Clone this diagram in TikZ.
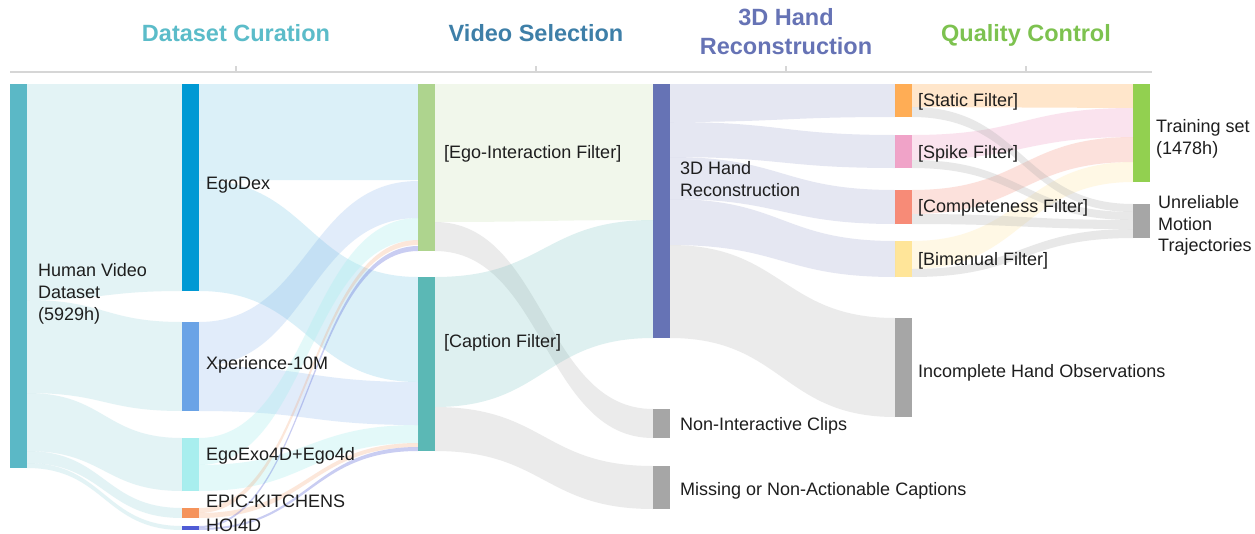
\documentclass[tikz,border=0pt]{standalone}
\usepackage{fontspec}
\setmainfont{Liberation Sans}
\usetikzlibrary{calc}

% node colours
\definecolor{cHVD}{HTML}{5BB8C6}
\definecolor{cEgoDex}{HTML}{0099D4}
\definecolor{cXper}{HTML}{6AA3E6}
\definecolor{cEgoExo}{HTML}{A8EEEE}
\definecolor{cEpic}{HTML}{F5935B}
\definecolor{cHoi}{HTML}{4F5BD5}
\definecolor{cEgoInt}{HTML}{AED48E}
\definecolor{cCap}{HTML}{5BB8B5}
\definecolor{cHand}{HTML}{6673B5}
\definecolor{cGray}{HTML}{A6A6A6}
\definecolor{cStatic}{HTML}{FFAD55}
\definecolor{cSpike}{HTML}{F0A3C8}
\definecolor{cCompl}{HTML}{F78B77}
\definecolor{cBiman}{HTML}{FFE599}
\definecolor{cTrain}{HTML}{92D050}
% header and text colours
\definecolor{hDC}{HTML}{5BBCC9}
\definecolor{hVS}{HTML}{3E7FA8}
\definecolor{hHR}{HTML}{6673B5}
\definecolor{hQC}{HTML}{7DC24F}
\definecolor{axis}{HTML}{D6D6D6}
\definecolor{txt}{HTML}{1E1E1E}

% band between two bars: #1 style, #2 source, #3/#4 offsets from its top,
% #5 target, #6/#7 offsets from its top
\newcommand\flowband[7]{%
  \path[band,#1] let \p1=(#2.north east), \p2=(#5.north west),
      \p3=($(#2.north east)!0.5!(#5.north west)$) in
    (\x1,\y1-#3pt) .. controls (\x3,\y1-#3pt) and (\x3,\y2-#6pt) .. (\x2,\y2-#6pt)
    -- (\x2,\y2-#7pt) .. controls (\x3,\y2-#7pt) and (\x3,\y1-#4pt) .. (\x1,\y1-#4pt)
    -- cycle;}

\begin{document}
\begin{tikzpicture}[x=1pt,y=-1pt,
  bar/.style={draw=none,inner sep=0pt,outer sep=0pt,minimum width=17pt,anchor=north west},
  band/.style={draw=none,fill opacity=0.17},
  lbl/.style={inner sep=0pt,anchor=base west,text=txt,font=\fontsize{18}{21}\selectfont},
  head/.style={inner sep=0pt,anchor=base,font=\bfseries\fontsize{23.5}{27}\selectfont},
  axisline/.style={draw=axis,line width=1.6pt},
]
\fill[white] (0,0) rectangle (1255,533);
\useasboundingbox (0,0) rectangle (1255,533);

% ---- stage headers and axis ----
\node[head,text=hDC] (hdc) at (236,41) {Dataset Curation};
\node[head,text=hVS] (hvs) at (536,41) {Video Selection};
\node[head,text=hHR] (hhr1) at (786,25) {3D Hand};
\node[head,text=hHR] (hhr2) at (786,54) {Reconstruction};
\node[head,text=hQC] (hqc) at (1026,41) {Quality Control};

\coordinate (axL) at (10,72);
\coordinate (axR) at (1152,72);
\draw[axisline] (axL) -- (axR);
\foreach \t/\xx in {tk1/236,tk2/536,tk3/786,tk4/1026}{
  \coordinate (\t) at (\xx,72);
  \draw[axisline,line width=1.2pt] (\t) -- ++(0,-6);
}

% ---- bars ----
\node[bar,fill=cHVD,minimum height=384pt] (hvd) at (10,84) {};

\node[bar,fill=cEgoDex,minimum height=207pt] (egodex) at (182,84) {};
\node[bar,fill=cXper,minimum height=89pt] (xper) at (182,322) {};
\node[bar,fill=cEgoExo,minimum height=53pt] (egoexo) at (182,438) {};
\node[bar,fill=cEpic,minimum height=10pt] (epic) at (182,508) {};
\node[bar,fill=cHoi,minimum height=4pt] (hoi) at (182,526) {};

\node[bar,fill=cEgoInt,minimum height=167pt] (egoint) at (418,84) {};
\node[bar,fill=cCap,minimum height=174pt] (caption) at (418,277) {};

\node[bar,fill=cHand,minimum height=254pt] (hand) at (653,84) {};
\node[bar,fill=cGray,minimum height=29pt] (nonint) at (653,409) {};
\node[bar,fill=cGray,minimum height=43pt] (missing) at (653,466) {};

\node[bar,fill=cStatic,minimum height=33pt] (static) at (895,84) {};
\node[bar,fill=cSpike,minimum height=33pt] (spike) at (895,135) {};
\node[bar,fill=cCompl,minimum height=34pt] (compl) at (895,190) {};
\node[bar,fill=cBiman,minimum height=36pt] (biman) at (895,241) {};
\node[bar,fill=cGray,minimum height=99pt] (incomp) at (895,318) {};

\node[bar,fill=cTrain,minimum height=98pt] (train) at (1133,84) {};
\node[bar,fill=cGray,minimum height=34pt] (unrel) at (1133,204) {};

% ---- flows: dataset curation ----
\flowband{fill=cHVD}{hvd}{0}{216}{egodex}{0}{207}
\flowband{fill=cHVD}{hvd}{216}{309}{xper}{0}{89}
\flowband{fill=cHVD}{hvd}{309}{367}{egoexo}{0}{53}
\flowband{fill=cHVD}{hvd}{367}{379}{epic}{0}{10}
\flowband{fill=cHVD}{hvd}{379}{384}{hoi}{0}{4}

% ---- flows: video selection ----
\flowband{fill=cEgoDex,fill opacity=0.14}{egodex}{0}{96}{egoint}{0}{96}
\flowband{fill=cEgoDex,fill opacity=0.14}{egodex}{96}{207}{caption}{0}{105}
\flowband{fill=cXper,fill opacity=0.2}{xper}{0}{44}{egoint}{97}{134}
\flowband{fill=cXper,fill opacity=0.2}{xper}{44}{89}{caption}{105}{148}
\flowband{fill=cEgoExo,fill opacity=0.32}{egoexo}{0}{27}{egoint}{134}{156}
\flowband{fill=cEgoExo,fill opacity=0.32}{egoexo}{27}{53}{caption}{148}{166}
\flowband{fill=cEpic,fill opacity=0.22}{epic}{0}{5}{egoint}{156}{161}
\flowband{fill=cEpic,fill opacity=0.22}{epic}{5}{10}{caption}{166}{170}
\flowband{fill=cHoi,fill opacity=0.3}{hoi}{0}{2}{egoint}{162}{167}
\flowband{fill=cHoi,fill opacity=0.3}{hoi}{2}{4}{caption}{170}{174}

% ---- flows: hand reconstruction ----
\flowband{fill=cEgoInt}{egoint}{0}{138}{hand}{0}{136}
\flowband{fill=cGray,fill opacity=0.22}{egoint}{138}{167}{nonint}{0}{29}
\flowband{fill=cCap,fill opacity=0.2}{caption}{0}{130}{hand}{136}{254}
\flowband{fill=cGray,fill opacity=0.22}{caption}{130}{174}{missing}{0}{43}

% ---- flows: quality control ----
\flowband{fill=cHand}{hand}{0}{38}{static}{0}{33}
\flowband{fill=cHand}{hand}{38}{73}{spike}{0}{33}
\flowband{fill=cHand}{hand}{73}{115}{compl}{0}{34}
\flowband{fill=cHand}{hand}{115}{161}{biman}{0}{36}
\flowband{fill=cGray,fill opacity=0.22}{hand}{161}{254}{incomp}{0}{99}

\flowband{fill=cStatic,fill opacity=0.3}{static}{0}{23}{train}{0}{24}
\flowband{fill=cSpike,fill opacity=0.3}{spike}{0}{25}{train}{24}{53}
\flowband{fill=cCompl,fill opacity=0.25}{compl}{0}{24}{train}{53}{78}
\flowband{fill=cBiman,fill opacity=0.25}{biman}{0}{28}{train}{78}{98}
\flowband{fill=cGray,fill opacity=0.25}{static}{23}{33}{unrel}{0}{8}
\flowband{fill=cGray,fill opacity=0.25}{spike}{25}{33}{unrel}{8}{16}
\flowband{fill=cGray,fill opacity=0.25}{compl}{24}{34}{unrel}{16}{25}
\flowband{fill=cGray,fill opacity=0.25}{biman}{28}{36}{unrel}{25}{34}

% ---- labels ----
\node[lbl] (l-hvd1) at (38,276) {Human Video};
\node[lbl] (l-hvd2) at (38,298) {Dataset};
\node[lbl] (l-hvd3) at (38,320) {(5929h)};

\node[lbl] (l-egodex) at (206,189) {EgoDex};
\node[lbl] (l-xper) at (206,369) {Xperience-10M};
\node[lbl] (l-egoexo) at (206,460) {EgoExo4D+Ego4d};
\node[lbl] (l-epic) at (206,507) {EPIC-KITCHENS};
\node[lbl] (l-hoi) at (206,531) {HOI4D};

\node[lbl] (l-egoint) at (444,158) {[Ego-Interaction Filter]};
\node[lbl] (l-caption) at (444,347) {[Caption Filter]};

\node[lbl] (l-hand1) at (680,174) {3D Hand};
\node[lbl] (l-hand2) at (680,196) {Reconstruction};
\node[lbl] (l-nonint) at (680,430) {Non-Interactive Clips};
\node[lbl] (l-missing) at (680,495) {Missing or Non-Actionable Captions};

\node[lbl] (l-static) at (918,106) {[Static Filter]};
\node[lbl] (l-spike) at (918,158) {[Spike Filter]};
\node[lbl] (l-compl) at (918,212) {[Completeness Filter]};
\node[lbl] (l-biman) at (918,265) {[Bimanual Filter]};
\node[lbl] (l-incomp) at (918,377) {Incomplete Hand Observations};

\node[lbl] (l-train1) at (1156,132) {Training set};
\node[lbl] (l-train2) at (1156,154) {(1478h)};
\node[lbl] (l-unrel1) at (1158,208) {Unreliable};
\node[lbl] (l-unrel2) at (1158,230) {Motion};
\node[lbl] (l-unrel3) at (1158,251) {Trajectories};
\end{tikzpicture}
\end{document}
